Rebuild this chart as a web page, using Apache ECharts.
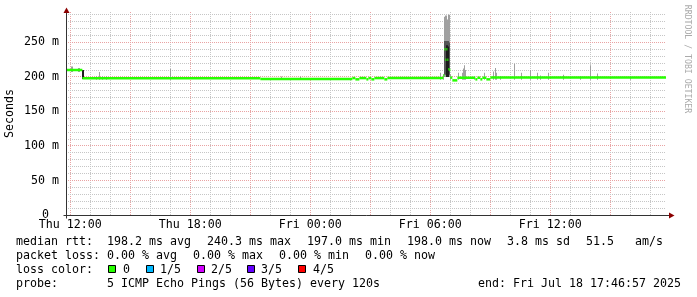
<!DOCTYPE html>
<html><head><meta charset="utf-8">
<script src="https://cdn.jsdelivr.net/npm/echarts@6/dist/echarts.min.js"></script>
<style>html,body{margin:0;padding:0;background:#fff}#c{width:697px;height:297px}</style>
</head><body><div id="c"></div>
<script>
// ---- data (time in hours since Thu 00:00, values in ms) ----
const startHour = 11.7825;   // Thu 11:46:57
const endHour = 41.7825;     // Fri 17:46:57
const yMax = 294;

const xLabelHours = [12, 18, 24, 30, 36];
const xLabelTexts = ['Thu 12:00', 'Thu 18:00', 'Fri 00:00', 'Fri 06:00', 'Fri 12:00'];
const yTickValues = [0, 50, 100, 150, 200, 250];

// median rtt (step segments)
const medianStart = [11.7825, 12.6, 21.5, 26.1, 26.25, 26.45, 26.8, 26.9, 27.05, 27.2, 27.7, 27.85, 30.65, 30.7, 30.75, 30.8, 30.85, 30.9, 30.95, 31.0, 31.1, 31.35, 32.25, 32.35, 32.5, 32.6, 32.8, 33.0];
const medianEnd   = [12.6, 21.5, 26.1, 26.25, 26.45, 26.8, 26.9, 27.05, 27.2, 27.7, 27.85, 30.65, 30.7, 30.75, 30.8, 30.85, 30.9, 30.95, 31.0, 31.1, 31.35, 32.25, 32.35, 32.5, 32.6, 32.8, 33.0, 41.7825];
const medianValue = [210, 198, 197, 198.3, 196.5, 198.3, 196.5, 198.3, 196.5, 198.3, 196.5, 198.3, 202, 240, 225, 240, 225, 211, 210, 199, 195, 198.8, 196.5, 198.8, 196.5, 198.8, 196.5, 199];

// light smoke (ping min..max)
const lightTime = [12.05, 12.1, 12.4, 12.45, 13.3, 13.45, 13.6, 13.8, 17.0, 22.55, 23.5, 30.5, 30.65, 30.7, 30.75, 30.8, 30.85, 30.9, 30.95, 31.0, 31.4, 31.6, 31.65, 31.7, 31.75, 32.2, 32.7, 33.15, 33.25, 33.3, 33.5, 34.2, 34.55, 35.0, 35.35, 35.5, 35.9, 36.65, 37.5, 38.0, 38.35, 40.0];
const lightLow  = [207, 207, 207, 207, 196, 196, 196, 196, 196, 196, 196, 196, 196, 200, 200, 200, 200, 200, 200, 196, 196, 196, 196, 196, 196, 196, 196, 196, 196, 196, 196, 196, 196, 196, 196, 196, 196, 196, 196, 196, 196, 196];
const lightHigh = [215, 215, 213, 213, 201, 207, 201, 201, 211.5, 200.5, 200.5, 206, 204, 287, 289, 289, 283, 290, 290, 204, 206, 206, 212, 217, 210, 201, 206, 208, 213, 206, 201, 219, 206, 210, 206, 202, 206, 203, 201, 217, 205, 201];
// dark smoke
const darkTime = [30.7, 30.75, 30.8, 30.85, 30.9, 30.95];
const darkLow  = [203, 203, 203, 203, 203, 203];
const darkHigh = [252, 252, 252, 252, 252, 250];
// core smoke
const coreTime = [12.6, 12.65, 30.8, 30.85, 30.9];
const coreLow  = [197, 197, 200, 200, 200];
const coreHigh = [210, 210, 246, 246, 244];

const legendLines = [
  [['median rtt:  198.2 ms avg', 16], ['240.3 ms max', 207], ['197.0 ms min', 307], ['198.0 ms now', 407], ['3.8 ms sd', 507], ['51.5   am/s', 586]],
  [['packet loss: 0.00 % avg', 16], ['0.00 % max', 193], ['0.00 % min', 279], ['0.00 % now', 365]],
  [['loss color:', 16], ['0', 123], ['1/5', 160], ['2/5', 211], ['3/5', 261], ['4/5', 313]],
  [['probe:       5 ICMP Echo Pings (56 Bytes) every 120s', 16], ['end: Fri Jul 18 17:46:57 2025', 478]]
];
const lossColors = ['#26ff00', '#00b8ff', '#d200ff', '#6400ff', '#ff0000'];
const lossSquareX = [108, 146, 197, 247, 298];

// ---- chart ----
const FONT = '"DejaVu Sans Mono", monospace';
const FS = 11.63;
const chart = echarts.init(document.getElementById('c'), null, {renderer: 'canvas'});

const smokeData = [];
lightTime.forEach((t, i) => smokeData.push([t, lightLow[i], lightHigh[i], 0]));
darkTime.forEach((t, i) => smokeData.push([t, darkLow[i], darkHigh[i], 1]));
coreTime.forEach((t, i) => smokeData.push([t, coreLow[i], coreHigh[i], 2]));
const smokeColors = ['#a0a0a0', '#555555', '#1c1c1c'];

const medianData = medianStart.map((s, i) => [s, medianValue[i], medianEnd[i]]);

const gridData = [];
for (let h = 12; h <= 41; h++) gridData.push([h, 0, h % 3 === 0 ? 1 : 0, 0]);
for (let v = 10; v <= 290; v += 10) gridData.push([startHour, v, v % 50 === 0 ? 1 : 0, 1]);

chart.setOption({
  animation: false,
  backgroundColor: '#ffffff',
  grid: {left: 66, top: 12, width: 600, height: 203},
  xAxis: {type: 'value', min: startHour, max: endHour, axisLine: {show: false}, axisTick: {show: false}, axisLabel: {show: false}, splitLine: {show: false}},
  yAxis: {type: 'value', min: 0, max: yMax, interval: 50,
    axisLine: {show: false}, axisTick: {show: false}, splitLine: {show: false},
    axisLabel: {showMaxLabel: false, margin: 7, color: '#000', fontFamily: FONT, fontSize: FS,
      formatter: v => yTickValues.indexOf(v) < 0 ? '' : (v === 0 ? '{z|0}' : v + ' m'),
      rich: {z: {padding: [0, 10, 0, 0], fontFamily: FONT, fontSize: FS, color: '#000'}}}
  },
  series: [
    {type: 'custom', z: 1, silent: true, data: gridData,
      renderItem: (params, api) => {
        const cs = params.coordSys;
        const major = api.value(2), kind = api.value(3);
        const stroke = major ? '#e9a3a3' : '#c6c6c6';
        if (kind === 0) {
          const x = Math.floor(api.coord([api.value(0), 0])[0]) + 0.5;
          return {type: 'line', shape: {x1: x, y1: cs.y, x2: x, y2: cs.y + cs.height}, style: {stroke, lineWidth: 1, lineDash: [1, 1]}};
        }
        const y = Math.floor(api.coord([startHour, api.value(1)])[1]) + 0.5;
        return {type: 'line', shape: {x1: cs.x, y1: y, x2: cs.x + cs.width, y2: y}, style: {stroke, lineWidth: 1, lineDash: [1, 1]}};
      }},
    {type: 'custom', z: 2, silent: true, data: smokeData,
      renderItem: (params, api) => {
        const t = api.value(0);
        const p0 = api.coord([t - 0.025, api.value(2)]);
        const p1 = api.coord([t + 0.025, api.value(1)]);
        const x = Math.round(p0[0]);
        const w = Math.max(1, Math.round(p1[0]) - x);
        return {type: 'rect', shape: {x, y: p0[1], width: w, height: p1[1] - p0[1]}, style: {fill: smokeColors[api.value(3)]}};
      }},
    {type: 'custom', z: 3, silent: true, data: medianData,
      renderItem: (params, api) => {
        const a = api.coord([api.value(0), api.value(1)]);
        const b = api.coord([api.value(2), api.value(1)]);
        return {type: 'rect', shape: {x: a[0], y: a[1] - 1.25, width: b[0] - a[0], height: 2.5}, style: {fill: lossColors[0]}};
      }}
  ]
});

// decorations positioned from the chart's own scales
const o = chart.convertToPixel({gridIndex: 0}, [startHour, 0]);
const tr = chart.convertToPixel({gridIndex: 0}, [endHour, yMax]);
const ox = Math.floor(o[0]) + 0.5, oy = Math.floor(o[1]) + 0.5;
const g = [];
g.push({type: 'line', z: 10, shape: {x1: ox - 3, y1: oy, x2: tr[0] + 4, y2: oy}, style: {stroke: '#333', lineWidth: 1}});
g.push({type: 'line', z: 10, shape: {x1: ox, y1: oy + 3, x2: ox, y2: tr[1]}, style: {stroke: '#333', lineWidth: 1}});
g.push({type: 'polygon', z: 11, shape: {points: [[tr[0] + 3, oy - 3], [tr[0] + 8.5, oy], [tr[0] + 3, oy + 3]]}, style: {fill: '#8b0000'}});
g.push({type: 'polygon', z: 11, shape: {points: [[ox - 3, tr[1] + 1], [ox, tr[1] - 4.5], [ox + 3, tr[1] + 1]]}, style: {fill: '#8b0000'}});
xLabelHours.forEach((h, i) => {
  const p = chart.convertToPixel({xAxisIndex: 0}, h);
  g.push({type: 'text', x: p, y: 225, style: {text: xLabelTexts[i], font: FS + 'px ' + FONT, fill: '#000', align: 'center', verticalAlign: 'middle', textAlign: 'center', textVerticalAlign: 'middle'}});
});
g.push({type: 'text', x: 10, y: (o[1] + tr[1]) / 2, rotation: Math.PI / 2, style: {text: 'Seconds', font: FS + 'px ' + FONT, fill: '#000', align: 'center', verticalAlign: 'middle', textAlign: 'center', textVerticalAlign: 'middle'}});
g.push({type: 'text', x: 687, y: 59, rotation: -Math.PI / 2, style: {text: 'RRDTOOL / TOBI OETIKER', font: '8.2px ' + FONT, fill: '#aaaaaa', align: 'center', verticalAlign: 'middle', textAlign: 'center', textVerticalAlign: 'middle'}});
const lineY = [241.7, 255.7, 269.5, 283.5];
legendLines.forEach((items, li) => {
  items.forEach(([txt, x]) => {
    g.push({type: 'text', x, y: lineY[li], style: {text: txt, font: FS + 'px ' + FONT, fill: '#000', align: 'left', verticalAlign: 'middle', textAlign: 'left', textVerticalAlign: 'middle'}});
  });
});
lossSquareX.forEach((x, i) => {
  g.push({type: 'rect', shape: {x: x + 0.5, y: 265.5, width: 7, height: 7}, style: {fill: lossColors[i], stroke: '#000', lineWidth: 1}});
});
chart.setOption({graphic: g});
</script></body></html>
